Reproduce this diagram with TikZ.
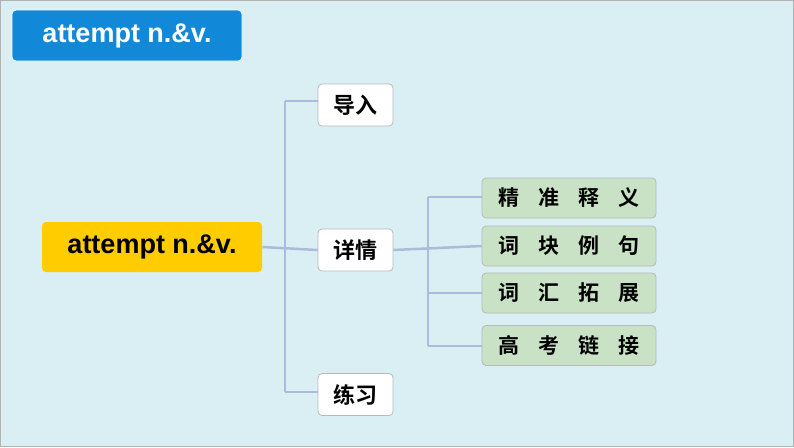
\documentclass[tikz,border=0pt]{standalone}
\usepackage{fontspec}
\setmainfont{Liberation Sans}
\newfontfamily\cjk{Noto Sans CJK SC}[BoldFont={* Bold}]
\begin{document}
\begin{tikzpicture}[x=1pt,y=-1pt,
  box/.style={draw=gray!55,line width=0.8pt,rounded corners=4pt,inner sep=0pt},
  wbox/.style={box,fill=white,minimum width=75pt,minimum height=42pt,font=\cjk\bfseries\fontsize{22}{24}\selectfont},
  gbox/.style={box,fill=green!15!gray!25!white,fill=gbg,minimum width=174pt,minimum height=40pt,font=\cjk\bfseries\fontsize{21}{24}\selectfont},
  ln/.style={draw=lnc,line width=2.5pt}]
\definecolor{bg}{HTML}{DAEFF3}
\definecolor{gbg}{HTML}{C9E2C5}
\definecolor{lnc}{HTML}{A9BCDD}
\definecolor{tb}{HTML}{1289D8}
\definecolor{yl}{HTML}{FFCC00}
\fill[bg] (0,0) rectangle (794,447);
\draw[gray!60,line width=1pt] (0.5,0.5) rectangle (793.5,446.5);
\useasboundingbox (0,0) rectangle (794,447);
\node[box,draw=white,fill=tb,minimum width=230pt,minimum height=51pt,text=white,font=\bfseries\fontsize{27}{30}\selectfont] (title) at (127,35.5) {attempt n.\&v.};
\node[box,draw=none,fill=yl,minimum width=220pt,minimum height=50pt,font=\bfseries\fontsize{27}{30}\selectfont] (main) at (152,247) {attempt n.\&v.};
\node[wbox] (a) at (355.5,105) {导入};
\node[wbox] (b) at (355.5,250) {详情};
\node[wbox] (c) at (355.5,394.5) {练习};
\node[gbox] (g1) at (569,198) {精\hspace{0.9em}准\hspace{0.9em}释\hspace{0.9em}义};
\node[gbox] (g2) at (569,246) {词\hspace{0.9em}块\hspace{0.9em}例\hspace{0.9em}句};
\node[gbox] (g3) at (569,293) {词\hspace{0.9em}汇\hspace{0.9em}拓\hspace{0.9em}展};
\node[gbox] (g4) at (569,345.5) {高\hspace{0.9em}考\hspace{0.9em}链\hspace{0.9em}接};
\coordinate (t1) at (285,101);
\coordinate (t2) at (285,392);
\coordinate (s1) at (428,197);
\coordinate (s2) at (428,346);
\begin{scope}[on background layer/.style={}]
\end{scope}
\draw[ln] (main.east) -- (b.west);
\draw[ln] (t1) -- (t2);
\draw[ln] (t1) -- (t1 -| a.west);
\draw[ln] (t2) -- (t2 -| c.west);
\draw[ln] (b.east) -- (g2.west);
\draw[ln] (s1) -- (s2);
\draw[ln] (s1) -- (s1 -| g1.west);
\draw[ln] (428,293) -- (g3.west);
\draw[ln] (s2) -- (s2 -| g4.west);
\end{tikzpicture}
\end{document}
